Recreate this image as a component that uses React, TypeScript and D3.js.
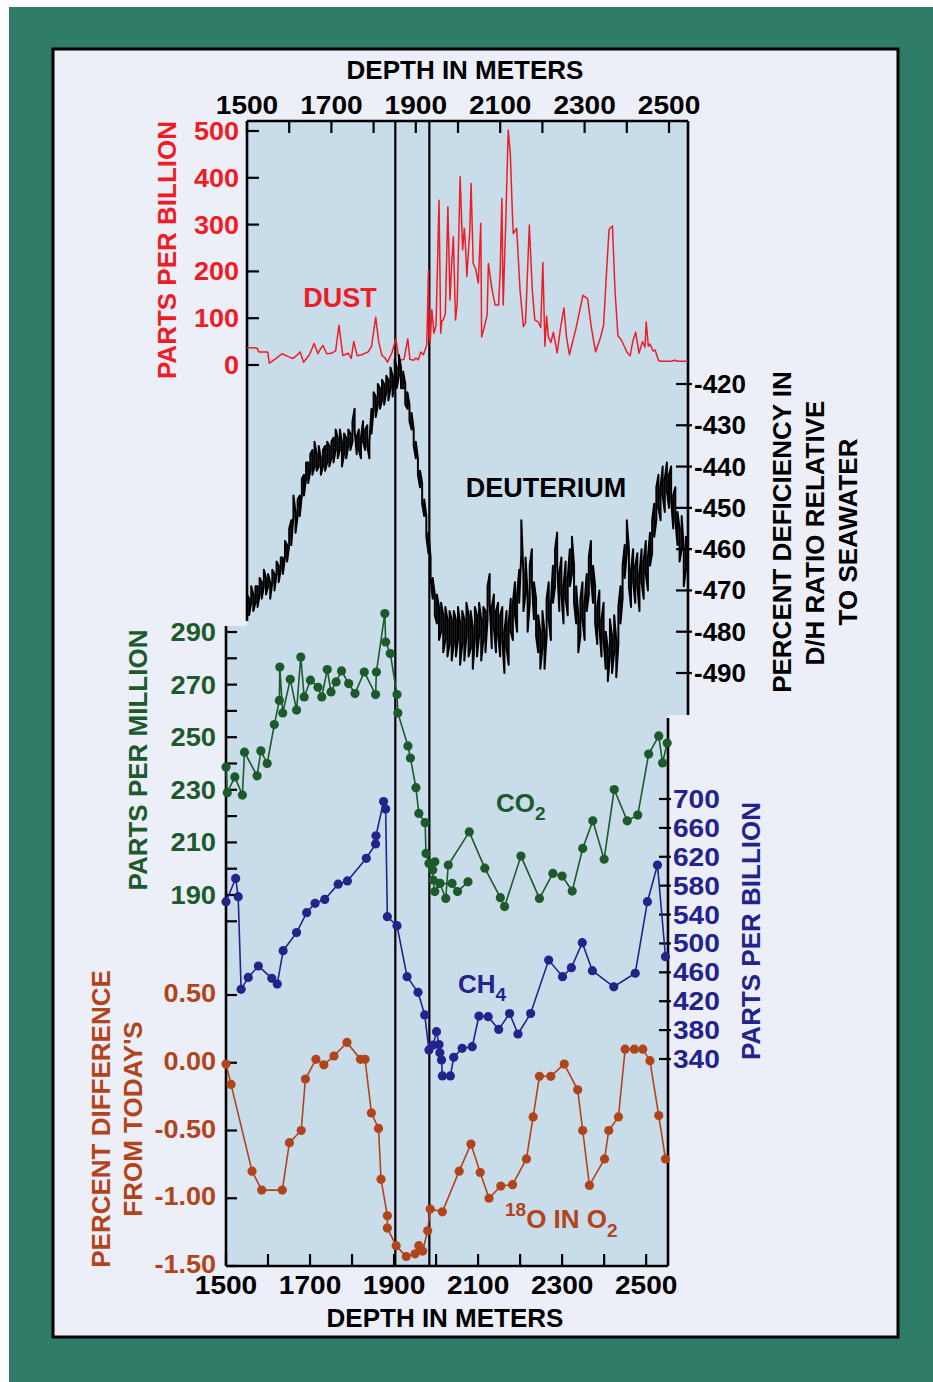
import React from "react";
import * as d3 from "d3";

// ---------- tick values / labels ----------
const DEPTH_TICKS = [1500, 1600, 1700, 1800, 1900, 2000, 2100, 2200, 2300, 2400, 2500];
const DEPTH_LABELS = [1500, 1700, 1900, 2100, 2300, 2500];
const DUST_TICKS = [0, 100, 200, 300, 400, 500];
const DEUT_TICKS = [-420, -430, -440, -450, -460, -470, -480, -490];
const CO2_TICKS = [180, 190, 200, 210, 220, 230, 240, 250, 260, 270, 280, 290];
const CO2_LABELS = [190, 210, 230, 250, 270, 290];
const CH4_TICKS = [340, 380, 420, 460, 500, 540, 580, 620, 660, 700];
const O18_TICKS = [0.5, 0, -0.5, -1, -1.5];
const O18_LABELS = ["0.50", "0.00", "-0.50", "-1.00", "-1.50"];
// depths (bottom axis) of the two vertical marker lines
const EVENT_DEPTHS = [1903, 1984];

// ---------- series: [depth (m), value] ----------
// dust (ppb) on the top depth axis
const dust: [number, number][] = [
  [1500, 37], [1513, 37], [1524, 36], [1528, 28], [1549, 28], [1553, 4], [1566, 12], [1583, 24],
  [1598, 18], [1609, 14], [1620, 22], [1626, 28], [1634, 6], [1648, 22], [1659, 46], [1668, 24],
  [1675, 36], [1680, 42], [1689, 24], [1700, 25], [1710, 30], [1718, 85], [1727, 20], [1740, 25],
  [1747, 14], [1753, 50], [1761, 20], [1772, 22], [1787, 28], [1795, 40], [1805, 102], [1812, 50],
  [1820, 20], [1826, 16], [1833, 6], [1843, 25], [1853, 56], [1858, 22], [1862, 10], [1872, 12],
  [1881, 56], [1886, 12], [1895, 10], [1900, 15], [1906, 11], [1912, 28], [1918, 22], [1926, 43],
  [1930, 203], [1932, 60], [1934, 47], [1938, 118], [1943, 68], [1948, 85], [1955, 352], [1959, 68],
  [1962, 95], [1965, 96], [1970, 110], [1976, 338], [1981, 139], [1985, 217], [1989, 274], [1994, 96],
  [1998, 130], [2005, 402], [2011, 246], [2015, 292], [2018, 250], [2021, 189], [2028, 288], [2031, 388],
  [2036, 217], [2042, 205], [2048, 175], [2054, 303], [2056, 60], [2062, 80], [2069, 107], [2072, 217],
  [2080, 165], [2088, 128], [2096, 128], [2100, 200], [2104, 356], [2107, 128], [2113, 300], [2119, 502],
  [2124, 450], [2129, 320], [2131, 281], [2139, 292], [2147, 160], [2155, 82], [2160, 90], [2169, 299],
  [2176, 160], [2182, 96], [2190, 92], [2196, 80], [2201, 219], [2206, 40], [2210, 104], [2214, 60],
  [2220, 48], [2226, 70], [2235, 26], [2243, 80], [2251, 122], [2257, 60], [2264, 22], [2280, 80],
  [2296, 149], [2307, 142], [2316, 80], [2326, 28], [2338, 60], [2345, 85], [2352, 200], [2358, 290],
  [2366, 297], [2372, 160], [2379, 62], [2386, 55], [2394, 40], [2400, 28], [2408, 20], [2414, 50],
  [2421, 70], [2429, 25], [2437, 50], [2443, 38], [2446, 92], [2451, 40], [2455, 45], [2462, 30],
  [2467, 32], [2475, 10], [2480, 8], [2505, 8], [2514, 10], [2520, 8], [2544, 8],
];

// deuterium on the top depth axis: [depth, low, high] of the noisy trace
const deuterium: [number, number, number][] = [
  [1500, -475, -471], [1505, -476, -472], [1510, -473, -469], [1515, -475, -471], [1520, -473, -469],
  [1525, -474, -469], [1530, -471, -467], [1535, -472, -468], [1540, -469, -465], [1545, -471, -467],
  [1550, -469, -466], [1555, -472, -468], [1560, -468, -465], [1565, -470, -466], [1570, -466, -463],
  [1575, -468, -464], [1580, -465, -462], [1585, -466, -462], [1590, -462, -458], [1595, -463, -459],
  [1600, -459, -455], [1605, -459, -453], [1610, -452, -447], [1615, -456, -451], [1620, -452, -448],
  [1625, -452, -447], [1630, -447, -443], [1635, -447, -442], [1640, -443, -439], [1645, -444, -439],
  [1650, -441, -437], [1655, -442, -436], [1660, -440, -434], [1665, -441, -437], [1670, -440, -435],
  [1675, -442, -438], [1680, -440, -436], [1685, -441, -435], [1690, -439, -434], [1695, -440, -435],
  [1700, -438, -434], [1705, -439, -433], [1710, -436, -431], [1715, -438, -433], [1720, -436, -431],
  [1725, -440, -434], [1730, -437, -432], [1735, -438, -433], [1740, -435, -431], [1745, -436, -432],
  [1750, -434, -429], [1755, -431, -426], [1760, -437, -433], [1765, -436, -431], [1770, -438, -433],
  [1775, -434, -429], [1780, -436, -431], [1785, -435, -430], [1790, -438, -434], [1795, -432, -426],
  [1800, -426, -422], [1805, -428, -423], [1810, -425, -420], [1815, -426, -421], [1820, -424, -419],
  [1825, -425, -420], [1830, -422, -418], [1835, -424, -419], [1840, -421, -416], [1845, -423, -418],
  [1850, -419, -414], [1855, -421, -416], [1860, -418, -413], [1865, -421, -416], [1870, -421, -417],
  [1875, -425, -420], [1880, -426, -422], [1885, -429, -425], [1890, -431, -427], [1895, -435, -431],
  [1900, -438, -434], [1905, -442, -438], [1910, -445, -441], [1915, -449, -444], [1920, -452, -448],
  [1925, -457, -452], [1930, -461, -456], [1935, -467, -462], [1940, -472, -467], [1945, -476, -471],
  [1950, -478, -471], [1955, -482, -474], [1960, -480, -473], [1965, -485, -476], [1970, -482, -474],
  [1975, -486, -477], [1980, -483, -475], [1985, -487, -477], [1990, -483, -475], [1995, -486, -477],
  [2000, -482, -474], [2005, -488, -478], [2010, -483, -475], [2015, -487, -477], [2020, -481, -473],
  [2025, -486, -476], [2030, -484, -475], [2035, -489, -479], [2040, -482, -474], [2045, -486, -476],
  [2050, -481, -473], [2055, -487, -477], [2060, -482, -474], [2065, -485, -475], [2070, -477, -469],
  [2075, -473, -466], [2080, -484, -474], [2085, -479, -471], [2090, -485, -475], [2095, -481, -473],
  [2100, -486, -476], [2105, -482, -474], [2110, -490, -480], [2115, -484, -475], [2120, -488, -478],
  [2125, -480, -472], [2130, -482, -473], [2135, -476, -468], [2140, -480, -471], [2145, -473, -465],
  [2150, -461, -453], [2155, -475, -466], [2160, -471, -462], [2165, -480, -471], [2170, -473, -464],
  [2175, -468, -460], [2180, -477, -468], [2185, -481, -472], [2190, -485, -476], [2195, -489, -480],
  [2200, -484, -475], [2205, -489, -480], [2210, -481, -472], [2215, -477, -468], [2220, -482, -473],
  [2225, -473, -464], [2230, -469, -460], [2235, -464, -456], [2240, -475, -466], [2245, -471, -462],
  [2250, -478, -469], [2255, -472, -463], [2260, -476, -467], [2265, -469, -460], [2270, -466, -457],
  [2275, -473, -464], [2280, -478, -469], [2285, -485, -476], [2290, -481, -472], [2295, -477, -468],
  [2300, -482, -473], [2305, -475, -466], [2310, -471, -462], [2315, -467, -458], [2320, -473, -464],
  [2325, -478, -469], [2330, -483, -474], [2335, -479, -470], [2340, -486, -477], [2345, -482, -473],
  [2350, -489, -480], [2355, -492, -484], [2360, -486, -477], [2365, -490, -481], [2370, -485, -476],
  [2375, -491, -482], [2380, -483, -474], [2385, -478, -469], [2390, -472, -464], [2395, -467, -459],
  [2400, -461, -453], [2405, -469, -460], [2410, -474, -465], [2415, -468, -460], [2420, -473, -464],
  [2425, -469, -461], [2430, -475, -466], [2435, -468, -460], [2440, -472, -463], [2445, -466, -458],
  [2450, -470, -462], [2455, -464, -456], [2460, -461, -453], [2465, -457, -449], [2470, -453, -445],
  [2475, -450, -442], [2480, -453, -445], [2485, -447, -440], [2490, -451, -443], [2495, -446, -439],
  [2500, -450, -442], [2505, -448, -440], [2510, -455, -447], [2515, -453, -445], [2520, -459, -451],
  [2525, -463, -455], [2530, -460, -452], [2535, -469, -460], [2540, -465, -457], [2545, -468, -460],
];

// CO2 (ppm) on the bottom depth axis, in drawing order
const co2: [number, number][] = [
  [1500, 238.7], [1503, 228.9], [1521, 234.9], [1539, 228], [1544, 244.3], [1574, 235.3], [1583, 244.8],
  [1598, 240], [1615, 254.8], [1627, 264], [1628, 276.7], [1635, 259.2], [1653, 272], [1668, 260.3],
  [1678, 280.5], [1686, 265.3], [1701, 271.7], [1719, 269], [1728, 265.3], [1741, 275.7], [1750, 267.2],
  [1762, 271], [1775, 275.2], [1792, 270.4], [1807, 266.6], [1829, 274.8], [1856, 266.2], [1858, 274.8],
  [1878, 297], [1880, 286.2], [1891, 281.8], [1907, 266.2], [1909, 259.2], [1933, 246.7], [1939, 242.1],
  [1952, 230.8], [1959, 221], [1974, 217.5], [1976, 205.8], [1983, 202], [1997, 202.6], [1992, 199.5],
  [1993, 195.7], [1997, 191.3], [2009, 194.4], [2023, 188.7], [2029, 201.4], [2079, 214], [2116, 200.2],
  [2153, 189], [2163, 185.6], [2202, 204.8], [2246, 188.7], [2278, 198.2], [2300, 197.2], [2324, 191.5],
  [2349, 207.7], [2373, 218.2], [2400, 203.6], [2424, 230.1], [2455, 218.2], [2480, 220.4], [2506, 243.6],
  [2530, 250.5], [2539, 240.2], [2550, 247.8],
];
const co2Branch: [number, number][] = [[2009, 194.4], [2038, 194.4], [2051, 191.3], [2076, 195]];

// CH4 (ppb) on the bottom depth axis
const ch4: [number, number][] = [
  [1500, 557.8], [1523, 590], [1529, 564.8], [1536, 436.5], [1553, 453], [1577, 468.8], [1609, 451.7],
  [1622, 443.8], [1636, 490], [1668, 515], [1692, 542.6], [1712, 555.6], [1735, 561], [1767, 582],
  [1789, 586.5], [1834, 617.9], [1856, 637.8], [1857, 649], [1875, 696.5], [1880, 686], [1884, 537],
  [1907, 524.6], [1931, 454], [1957, 432.3], [1973, 401], [1983, 352.5], [1993, 359.4], [2001, 377.8],
  [2007, 360], [2009, 348.8], [2013, 338.6], [2015, 316.5], [2034, 316.5], [2042, 342.3], [2062, 354.8],
  [2086, 357], [2102, 399.5], [2124, 398.6], [2149, 381], [2175, 403], [2195, 374.6], [2225, 403],
  [2268, 477], [2301, 454], [2322, 466.4], [2348, 501], [2372, 462.3], [2423, 440], [2474, 458.7],
  [2503, 557.8], [2527, 608.6], [2546, 481.7],
];

// 18O in O2 (percent difference from today's) on the bottom depth axis
const o18: [number, number][] = [
  [1500, -0.01], [1512, -0.16], [1562, -0.8], [1585, -0.94], [1634, -0.94], [1651, -0.59], [1679, -0.5],
  [1689, -0.12], [1714, 0.025], [1733, -0.015], [1757, 0.05], [1788, 0.15], [1820, 0.025], [1831, 0.025],
  [1846, -0.37], [1863, -0.485], [1869, -0.86], [1884, -1.13], [1884, -1.22], [1905, -1.35], [1929, -1.43],
  [1950, -1.41], [1959, -1.35], [1968, -1.39], [1980, -1.24], [1986, -1.08], [2015, -1.1], [2055, -0.8],
  [2083, -0.6], [2105, -0.81], [2126, -1.0], [2154, -0.91], [2182, -0.9], [2215, -0.71], [2231, -0.4],
  [2246, -0.1], [2273, -0.1], [2305, -0.01], [2337, -0.2], [2349, -0.5], [2365, -0.905], [2401, -0.71],
  [2411, -0.5], [2434, -0.4], [2450, 0.1], [2472, 0.1], [2492, 0.1], [2509, 0.015], [2530, -0.39],
  [2546, -0.71],
];

// ---------- colours ----------
const GREEN_FRAME = "#2f7c68";
const PANEL = "#eceef8";
const PLOT_BG = "#c8dcea";
const RED = "#ee1d25";
const CO2_C = "#1c5a2b";
const CH4_C = "#23238c";
const O18_C = "#b2441b";
const FONT = "'Liberation Sans', Arial, Helvetica, sans-serif";

type TP = {
  x: number; y: number; children: React.ReactNode; size?: number; fill?: string;
  anchor?: "start" | "middle" | "end"; rotate?: number; sx?: number;
};
function T({ x, y, children, size = 26, fill = "#000", anchor = "middle", rotate = 0, sx = 1 }: TP) {
  return (
    <text
      transform={`translate(${x},${y}) rotate(${rotate}) scale(${sx},1)`}
      textAnchor={anchor}
      fontSize={size}
      fontWeight={700}
      fontFamily={FONT}
      fill={fill}
    >
      {children}
    </text>
  );
}

export default function App() {
  // scales
  const xTop = d3.scaleLinear().domain([1500, 2545]).range([247, 688]);
  const xBot = d3.scaleLinear().domain([1500, 2552]).range([226, 668]);
  const yDust = d3.scaleLinear().domain([0, 500]).range([365, 131]);
  const yDeut = d3.scaleLinear().domain([-420, -490]).range([384, 673]);
  const yCO2 = d3.scaleLinear().domain([190, 290]).range([895, 632]);
  const yCH4 = d3.scaleLinear().domain([340, 700]).range([1059, 799]);
  const yO18 = d3.scaleLinear().domain([-1.5, 0.5]).range([1266, 995]);

  const top = 121;
  const leftTopAxisEnd = 621;
  const rightTopAxisEnd = 715;
  const botTop = 626;
  const rightBotTop = 718;
  const bottom = 1266;

  const lineTop = (ys: d3.ScaleLinear<number, number>) =>
    d3.line<[number, number]>().x((d) => xTop(d[0])).y((d) => ys(d[1]));
  const lineBot = (ys: d3.ScaleLinear<number, number>) =>
    d3.line<[number, number]>().x((d) => xBot(d[0])).y((d) => ys(d[1]));

  // noisy deuterium trace: alternate low/high at each sampled depth
  const deutPts: [number, number][] = [];
  deuterium.forEach(([d, lo, hi], i) => {
    if (i % 2 === 0) {
      deutPts.push([d, lo], [d, hi]);
    } else {
      deutPts.push([d, hi], [d, lo]);
    }
  });

  const xL = xTop(1500);
  const xR = xTop(2545);
  const bL = xBot(1500);
  const bR = xBot(2552);

  const axisW = 2.6;

  return (
    <svg
      width={933}
      height={1382}
      style={{ position: "absolute", left: 0, top: 0, display: "block" }}
    >
      <rect x={0} y={0} width={933} height={1382} fill="#fff" />
      <rect x={9} y={7} width={924} height={1375} fill={GREEN_FRAME} />
      <rect x={53} y={49} width={845} height={1288} fill={PANEL} stroke="#000" strokeWidth={3} />

      {/* plot backgrounds */}
      <rect x={xL} y={top} width={xR - xL} height={rightTopAxisEnd - top} fill={PLOT_BG} />
      <rect x={bL} y={botTop} width={bR - bL} height={bottom - botTop} fill={PLOT_BG} />

      {/* top depth axis */}
      <line x1={xL} x2={xR} y1={top} y2={top} stroke="#000" strokeWidth={axisW} />
      {DEPTH_TICKS.map((d) => (
        <line key={"tt" + d} x1={xTop(d)} x2={xTop(d)} y1={top} y2={top + 12} stroke="#000" strokeWidth={2.2} />
      ))}
      {DEPTH_LABELS.map((d) => (
        <T key={"tl" + d} x={xTop(d)} y={114} sx={1.08}>{d}</T>
      ))}
      <T x={465} y={79}>DEPTH IN METERS</T>

      {/* dust axis (left, top panel) */}
      <line x1={xL} x2={xL} y1={top} y2={leftTopAxisEnd} stroke="#000" strokeWidth={axisW} />
      {DUST_TICKS.map((v) => (
        <g key={"dt" + v}>
          <line x1={xL} x2={xL + 12} y1={yDust(v)} y2={yDust(v)} stroke="#000" strokeWidth={2.2} />
          <T x={239} y={yDust(v) + 9} anchor="end" fill={RED} sx={1.04}>{v}</T>
        </g>
      ))}
      <T x={176} y={250} rotate={-90} fill={RED}>PARTS PER BILLION</T>

      {/* deuterium axis (right, top panel) */}
      <line x1={xR} x2={xR} y1={top} y2={rightTopAxisEnd} stroke="#000" strokeWidth={axisW} />
      {DEUT_TICKS.map((v) => (
        <g key={"ut" + v}>
          <line x1={xR - 12} x2={xR + 4} y1={yDeut(v)} y2={yDeut(v)} stroke="#000" strokeWidth={2.2} />
          <T x={694} y={yDeut(v) + 9} anchor="start">{v}</T>
        </g>
      ))}
      <T x={791} y={532} rotate={-90}>PERCENT DEFICIENCY IN</T>
      <T x={824} y={533} rotate={-90}>D/H RATIO RELATIVE</T>
      <T x={857} y={532} rotate={-90}>TO SEAWATER</T>

      {/* bottom panel axes */}
      <line x1={bL} x2={bL} y1={botTop} y2={bottom} stroke="#000" strokeWidth={axisW} />
      <line x1={bL} x2={bR} y1={bottom} y2={bottom} stroke="#000" strokeWidth={axisW} />
      <line x1={bR} x2={bR} y1={rightBotTop} y2={bottom} stroke="#000" strokeWidth={axisW} />
      {DEPTH_TICKS.map((d) => (
        <line key={"bt" + d} x1={xBot(d)} x2={xBot(d)} y1={bottom} y2={bottom - 12} stroke="#000" strokeWidth={2.2} />
      ))}
      {DEPTH_LABELS.map((d) => (
        <T key={"bl" + d} x={xBot(d)} y={1294} sx={1.08}>{d}</T>
      ))}
      <T x={445} y={1327}>DEPTH IN METERS</T>

      {/* CO2 axis */}
      {CO2_TICKS.map((v) => (
        <line key={"ct" + v} x1={bL} x2={bL + 11} y1={yCO2(v)} y2={yCO2(v)} stroke="#000" strokeWidth={2.2} />
      ))}
      {CO2_LABELS.map((v) => (
        <T key={"cl" + v} x={216} y={yCO2(v) + 9} anchor="end" fill={CO2_C} sx={1.05}>{v}</T>
      ))}
      <T x={147} y={760} rotate={-90} fill={CO2_C}>PARTS PER MILLION</T>

      {/* O18 axis */}
      {O18_TICKS.map((v, i) => (
        <g key={"ot" + v}>
          <line x1={bL} x2={bL + 11} y1={yO18(v)} y2={yO18(v)} stroke="#000" strokeWidth={2.2} />
          <T x={216} y={yO18(v) + 7} anchor="end" fill={O18_C} sx={1.04}>{O18_LABELS[i]}</T>
        </g>
      ))}
      <T x={110} y={1119} rotate={-90} fill={O18_C}>PERCENT DIFFERENCE</T>
      <T x={142} y={1119} rotate={-90} fill={O18_C}>FROM TODAY'S</T>

      {/* CH4 axis */}
      {CH4_TICKS.map((v) => (
        <g key={"mt" + v}>
          <line x1={bR - 9} x2={bR + 3} y1={yCH4(v)} y2={yCH4(v)} stroke="#000" strokeWidth={2.2} />
          <T x={673} y={yCH4(v) + 9} anchor="start" fill={CH4_C} sx={1.08}>{v}</T>
        </g>
      ))}
      <T x={760} y={931} rotate={-90} fill={CH4_C}>PARTS PER BILLION</T>

      {/* vertical marker lines */}
      {EVENT_DEPTHS.map((d) => (
        <line key={"ev" + d} x1={xBot(d)} x2={xBot(d)} y1={top} y2={bottom} stroke="#000" strokeWidth={2.2} />
      ))}

      {/* series */}
      <path d={lineTop(yDust)(dust) || ""} fill="none" stroke={RED} strokeWidth={1.5} strokeLinejoin="round" />
      <path d={lineTop(yDeut)(deutPts) || ""} fill="none" stroke="#000" strokeWidth={2} strokeLinejoin="round" />

      <path d={lineBot(yCO2)(co2) || ""} fill="none" stroke={CO2_C} strokeWidth={1.6} />
      <path d={lineBot(yCO2)(co2Branch) || ""} fill="none" stroke={CO2_C} strokeWidth={1.6} />
      {[...co2, ...co2Branch].map((d, i) => (
        <circle key={"c" + i} cx={xBot(d[0])} cy={yCO2(d[1])} r={4.6} fill={CO2_C} />
      ))}

      <path d={lineBot(yCH4)(ch4) || ""} fill="none" stroke={CH4_C} strokeWidth={1.6} />
      {ch4.map((d, i) => (
        <circle key={"m" + i} cx={xBot(d[0])} cy={yCH4(d[1])} r={4.6} fill={CH4_C} />
      ))}

      <path d={lineBot(yO18)(o18) || ""} fill="none" stroke={O18_C} strokeWidth={1.6} />
      {o18.map((d, i) => (
        <circle key={"o" + i} cx={xBot(d[0])} cy={yO18(d[1])} r={4.6} fill={O18_C} />
      ))}

      {/* series labels */}
      <T x={340} y={307} fill={RED} size={27}>DUST</T>
      <T x={546} y={497} size={27}>DEUTERIUM</T>
      <text x={496} y={812} fontSize={26} fontWeight={700} fontFamily={FONT} fill={CO2_C}>
        CO<tspan fontSize={19} dy={8}>2</tspan>
      </text>
      <text x={458} y={993} fontSize={26} fontWeight={700} fontFamily={FONT} fill={CH4_C}>
        CH<tspan fontSize={19} dy={8}>4</tspan>
      </text>
      <text x={505} y={1228} fontSize={26} fontWeight={700} fontFamily={FONT} fill={O18_C}>
        <tspan fontSize={19} dy={-12}>18</tspan>
        <tspan dy={12}>O IN O</tspan>
        <tspan fontSize={19} dy={9}>2</tspan>
      </text>
    </svg>
  );
}
